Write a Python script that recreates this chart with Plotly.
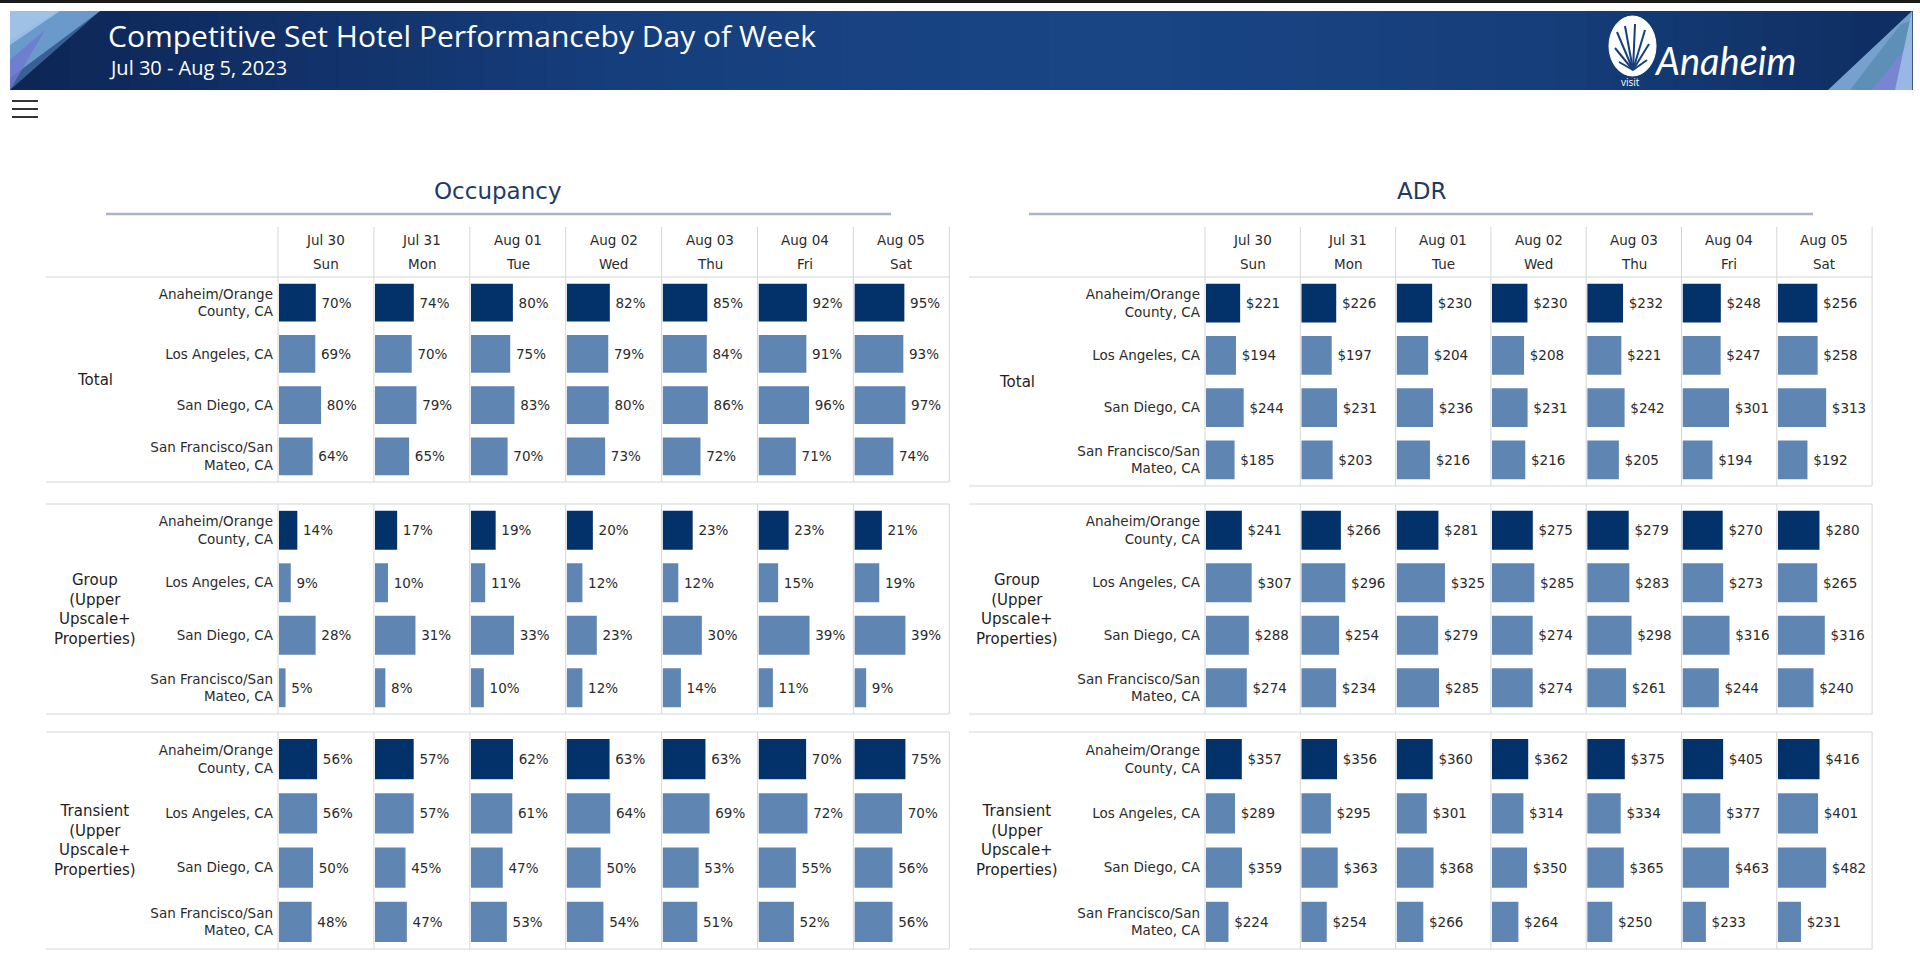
import plotly.graph_objects as go

W, H = 1920, 968


def X(px):
    return px / W


def Y(py):
    return 1 - py / H


# ---------------- data ----------------
cities = ["Anaheim/Orange<br>County, CA", "Los Angeles, CA", "San Diego, CA",
          "San Francisco/San<br>Mateo, CA"]
dates = ["Jul 30", "Jul 31", "Aug 01", "Aug 02", "Aug 03", "Aug 04", "Aug 05"]
days = ["Sun", "Mon", "Tue", "Wed", "Thu", "Fri", "Sat"]
segments = ["Total", "Group<br>(Upper<br>Upscale+<br>Properties)",
            "Transient<br>(Upper<br>Upscale+<br>Properties)"]

# Occupancy (%)
occ_total_anaheim = [70, 74, 80, 82, 85, 92, 95]
occ_total_la = [69, 70, 75, 79, 84, 91, 93]
occ_total_sd = [80, 79, 83, 80, 86, 96, 97]
occ_total_sf = [64, 65, 70, 73, 72, 71, 74]
occ_group_anaheim = [14, 17, 19, 20, 23, 23, 21]
occ_group_la = [9, 10, 11, 12, 12, 15, 19]
occ_group_sd = [28, 31, 33, 23, 30, 39, 39]
occ_group_sf = [5, 8, 10, 12, 14, 11, 9]
occ_trans_anaheim = [56, 57, 62, 63, 63, 70, 75]
occ_trans_la = [56, 57, 61, 64, 69, 72, 70]
occ_trans_sd = [50, 45, 47, 50, 53, 55, 56]
occ_trans_sf = [48, 47, 53, 54, 51, 52, 56]

# ADR ($)
adr_total_anaheim = [221, 226, 230, 230, 232, 248, 256]
adr_total_la = [194, 197, 204, 208, 221, 247, 258]
adr_total_sd = [244, 231, 236, 231, 242, 301, 313]
adr_total_sf = [185, 203, 216, 216, 205, 194, 192]
adr_group_anaheim = [241, 266, 281, 275, 279, 270, 280]
adr_group_la = [307, 296, 325, 285, 283, 273, 265]
adr_group_sd = [288, 254, 279, 274, 298, 316, 316]
adr_group_sf = [274, 234, 285, 274, 261, 244, 240]
adr_trans_anaheim = [357, 356, 360, 362, 375, 405, 416]
adr_trans_la = [289, 295, 301, 314, 334, 377, 401]
adr_trans_sd = [359, 363, 368, 350, 365, 463, 482]
adr_trans_sf = [224, 254, 266, 264, 250, 233, 231]

occ_panels = [
    [occ_total_anaheim, occ_total_la, occ_total_sd, occ_total_sf],
    [occ_group_anaheim, occ_group_la, occ_group_sd, occ_group_sf],
    [occ_trans_anaheim, occ_trans_la, occ_trans_sd, occ_trans_sf],
]
adr_panels = [
    [adr_total_anaheim, adr_total_la, adr_total_sd, adr_total_sf],
    [adr_group_anaheim, adr_group_la, adr_group_sd, adr_group_sf],
    [adr_trans_anaheim, adr_trans_la, adr_trans_sd, adr_trans_sf],
]

# ---------------- styles / geometry ----------------
DARK = "#03326a"
LIGHT = "#5f86b3"
GRID = "#d6d6d6"
TXT = "#2b2b2b"
FONT = "DejaVu Sans"
SP = "\u2009"  # thin space before value labels

measures = [
    dict(title="Occupancy", fmt=SP + "%{x}%", panels=occ_panels,
         col0=278, colw=95.9, seg_cx=95, line_left=46, title_cx=498,
         ul=(106, 891), rows=[(277, 482), (504, 714), (732, 949)], span=1.86),
    dict(title="ADR", fmt=SP + "$%{x}", panels=adr_panels,
         col0=1205, colw=95.3, seg_cx=1017, line_left=969, title_cx=1421,
         ul=(1029, 1813), rows=[(277, 486), (504, 714), (732, 949)], span=1.95),
]

fig = go.Figure()
layout = {}
shapes = []
annotations = []


def axname(kind, i):
    return kind + ("" if i == 1 else str(i))


def hline(x0, x1, y, color=GRID, width=1):
    shapes.append(dict(type="line", xref="paper", yref="paper", x0=X(x0), x1=X(x1),
                       y0=Y(y), y1=Y(y), line=dict(color=color, width=width), layer="below"))


def vline(x, y0, y1, color=GRID, width=1):
    shapes.append(dict(type="line", xref="paper", yref="paper", x0=X(x), x1=X(x),
                       y0=Y(y0), y1=Y(y1), line=dict(color=color, width=width), layer="below"))


xi = 0
yi = 0
for m in measures:
    right = m["col0"] + 7 * m["colw"]
    # title + underline
    annotations.append(dict(text=m["title"], x=X(m["title_cx"]), y=Y(191), xref="paper", yref="paper",
                            showarrow=False, xanchor="center", yanchor="middle",
                            font=dict(family=FONT, size=23, color="#1f3a68")))
    hline(m["ul"][0], m["ul"][1], 214, color="#a9b4c6", width=2.5)
    # column headers
    for c in range(7):
        cx = m["col0"] + (c + 0.5) * m["colw"]
        annotations.append(dict(text=dates[c], x=X(cx), y=Y(240), xref="paper", yref="paper",
                                showarrow=False, xanchor="center", yanchor="middle",
                                font=dict(family=FONT, size=13.5, color=TXT)))
        annotations.append(dict(text=days[c], x=X(cx), y=Y(264), xref="paper", yref="paper",
                                showarrow=False, xanchor="center", yanchor="middle",
                                font=dict(family=FONT, size=13.5, color=TXT)))
    for s, panel in enumerate(m["panels"]):
        yi += 1
        top, bot = m["rows"][s]
        pmax = max(max(r) for r in panel)
        rng = pmax * m["span"]
        first_x = xi + 1
        # grid lines
        hline(m["line_left"], right, top)
        hline(m["line_left"], right, bot)
        vtop = 227 if s == 0 else top
        for c in range(8):
            vline(m["col0"] + c * m["colw"], vtop, bot)
        # segment label
        annotations.append(dict(text=segments[s], x=X(m["seg_cx"]), y=Y((top + bot) / 2),
                                xref="paper", yref="paper", showarrow=False,
                                xanchor="center", yanchor="middle", align="center",
                                font=dict(family=FONT, size=15, color="#1e1e1e")))
        for c in range(7):
            xi += 1
            left = m["col0"] + c * m["colw"]
            layout[axname("xaxis", xi)] = dict(domain=[X(left + 1), X(left + m["colw"])],
                                              anchor=axname("y", yi), range=[0, rng],
                                              visible=False, fixedrange=True)
            fig.add_trace(go.Bar(
                x=[row[c] for row in panel], y=cities, orientation="h",
                xaxis=axname("x", xi), yaxis=axname("y", yi),
                marker=dict(color=[DARK, LIGHT, LIGHT, LIGHT], line=dict(width=0)),
                texttemplate=m["fmt"], textposition="outside", textangle=0,
                constraintext="none", cliponaxis=False,
                outsidetextfont=dict(family=FONT, size=13.5, color=TXT),
                hoverinfo="skip", showlegend=False,
            ))
        layout[axname("yaxis", yi)] = dict(
            domain=[Y(bot), Y(top)], anchor=axname("x", first_x), type="category",
            categoryorder="array", categoryarray=cities, range=[3.5, -0.5],
            showgrid=False, zeroline=False, showline=False, ticks="",
            ticklabelstandoff=5, fixedrange=True,
            tickfont=dict(family=FONT, size=13.5, color=TXT))

# ---------------- banner ----------------
shapes.append(dict(type="rect", xref="paper", yref="paper", x0=0, x1=1, y0=Y(3), y1=1,
                   fillcolor="#1a1a1a", line=dict(width=0), layer="below"))
stops = [(10, (13, 38, 86)), (600, (22, 62, 124)), (1100, (26, 70, 134)),
         (1550, (22, 62, 122)), (1912, (15, 46, 98))]


def col_at(x):
    for (xa, ca), (xb, cb) in zip(stops[:-1], stops[1:]):
        if xa <= x <= xb:
            t = (x - xa) / (xb - xa)
            return "rgb(%d,%d,%d)" % tuple(int(a + (b - a) * t) for a, b in zip(ca, cb))
    return "rgb(%d,%d,%d)" % stops[-1][1]


n = 64
bx0, bx1 = 10, 1912
for i in range(n):
    a = bx0 + (bx1 - bx0) * i / n
    b = bx0 + (bx1 - bx0) * (i + 1) / n
    shapes.append(dict(type="rect", xref="paper", yref="paper", x0=X(a), x1=X(b + 0.8),
                       y0=Y(90), y1=Y(11), fillcolor=col_at((a + b) / 2),
                       line=dict(width=0), layer="below"))


def poly(pts, color, op=1.0):
    path = "M " + " L ".join("%f,%f" % (X(px), Y(py)) for px, py in pts) + " Z"
    shapes.append(dict(type="path", xref="paper", yref="paper", path=path,
                       fillcolor=color, opacity=op, line=dict(width=0), layer="below"))


# left corner decoration
poly([(10, 11), (100, 11), (10, 78)], "#8fbbe6", 0.85)
poly([(10, 40), (58, 11), (100, 11), (10, 90)], "#5d8fc8", 0.55)
poly([(10, 60), (45, 30), (10, 90)], "#7078cf", 0.8)
poly([(10, 11), (60, 11), (10, 45)], "#b7d6f2", 0.6)
# right corner decoration
poly([(1828, 90), (1912, 11), (1912, 90)], "#88b4df", 0.85)
poly([(1850, 90), (1900, 25), (1912, 20), (1912, 90)], "#4f86a8", 0.6)
poly([(1872, 90), (1912, 40), (1912, 90)], "#7b84d8", 0.85)
poly([(1895, 90), (1912, 11), (1912, 90)], "#a8cbeb", 0.7)

annotations.append(dict(text="Competitive Set Hotel Performanceby Day of Week", x=X(106), y=Y(35),
                        xref="paper", yref="paper", showarrow=False, xanchor="left", yanchor="middle",
                        font=dict(family="Open Sans", size=30, color="white")))
annotations.append(dict(text="Jul 30 - Aug 5, 2023", x=X(107), y=Y(67.5),
                        xref="paper", yref="paper", showarrow=False, xanchor="left", yanchor="middle",
                        font=dict(family="Open Sans", size=20, color="white")))

# logo (approximation)
shapes.append(dict(type="circle", xref="paper", yref="paper", x0=X(1609), x1=X(1656), y0=Y(76), y1=Y(16),
                   fillcolor="white", line=dict(color="white", width=1), layer="above"))
for (dx, dy) in [(-16, -38), (-8, -44), (2, -46), (12, -40), (-18, -22), (16, -26), (-14, -8), (14, -10)]:
    shapes.append(dict(type="line", xref="paper", yref="paper", x0=X(1633), y0=Y(70),
                       x1=X(1633 + dx), y1=Y(70 + dy), line=dict(color="#173f7c", width=2), layer="above"))
annotations.append(dict(text="Anaheim", x=X(1652), y=Y(60), xref="paper", yref="paper", showarrow=False,
                        xanchor="left", yanchor="middle",
                        font=dict(family="Lato", size=38, color="white", style="italic")))
annotations.append(dict(text="visit", x=X(1630), y=Y(82), xref="paper", yref="paper", showarrow=False,
                        xanchor="center", yanchor="middle",
                        font=dict(family="Open Sans", size=10, color="white")))

# hamburger menu
for yy in (101, 109, 117):
    hline(12, 38, yy, color="#333333", width=2)

fig.update_layout(
    width=W, height=H, margin=dict(l=0, r=0, t=0, b=0),
    paper_bgcolor="white", plot_bgcolor="white",
    bargap=0.26, showlegend=False,
    shapes=shapes, annotations=annotations,
    font=dict(family=FONT, color=TXT),
    **layout,
)

fig.write_html("out.html", include_plotlyjs=True, config={"displayModeBar": False},
               post_script="document.body.style.margin='0';document.body.style.overflow='hidden';")
